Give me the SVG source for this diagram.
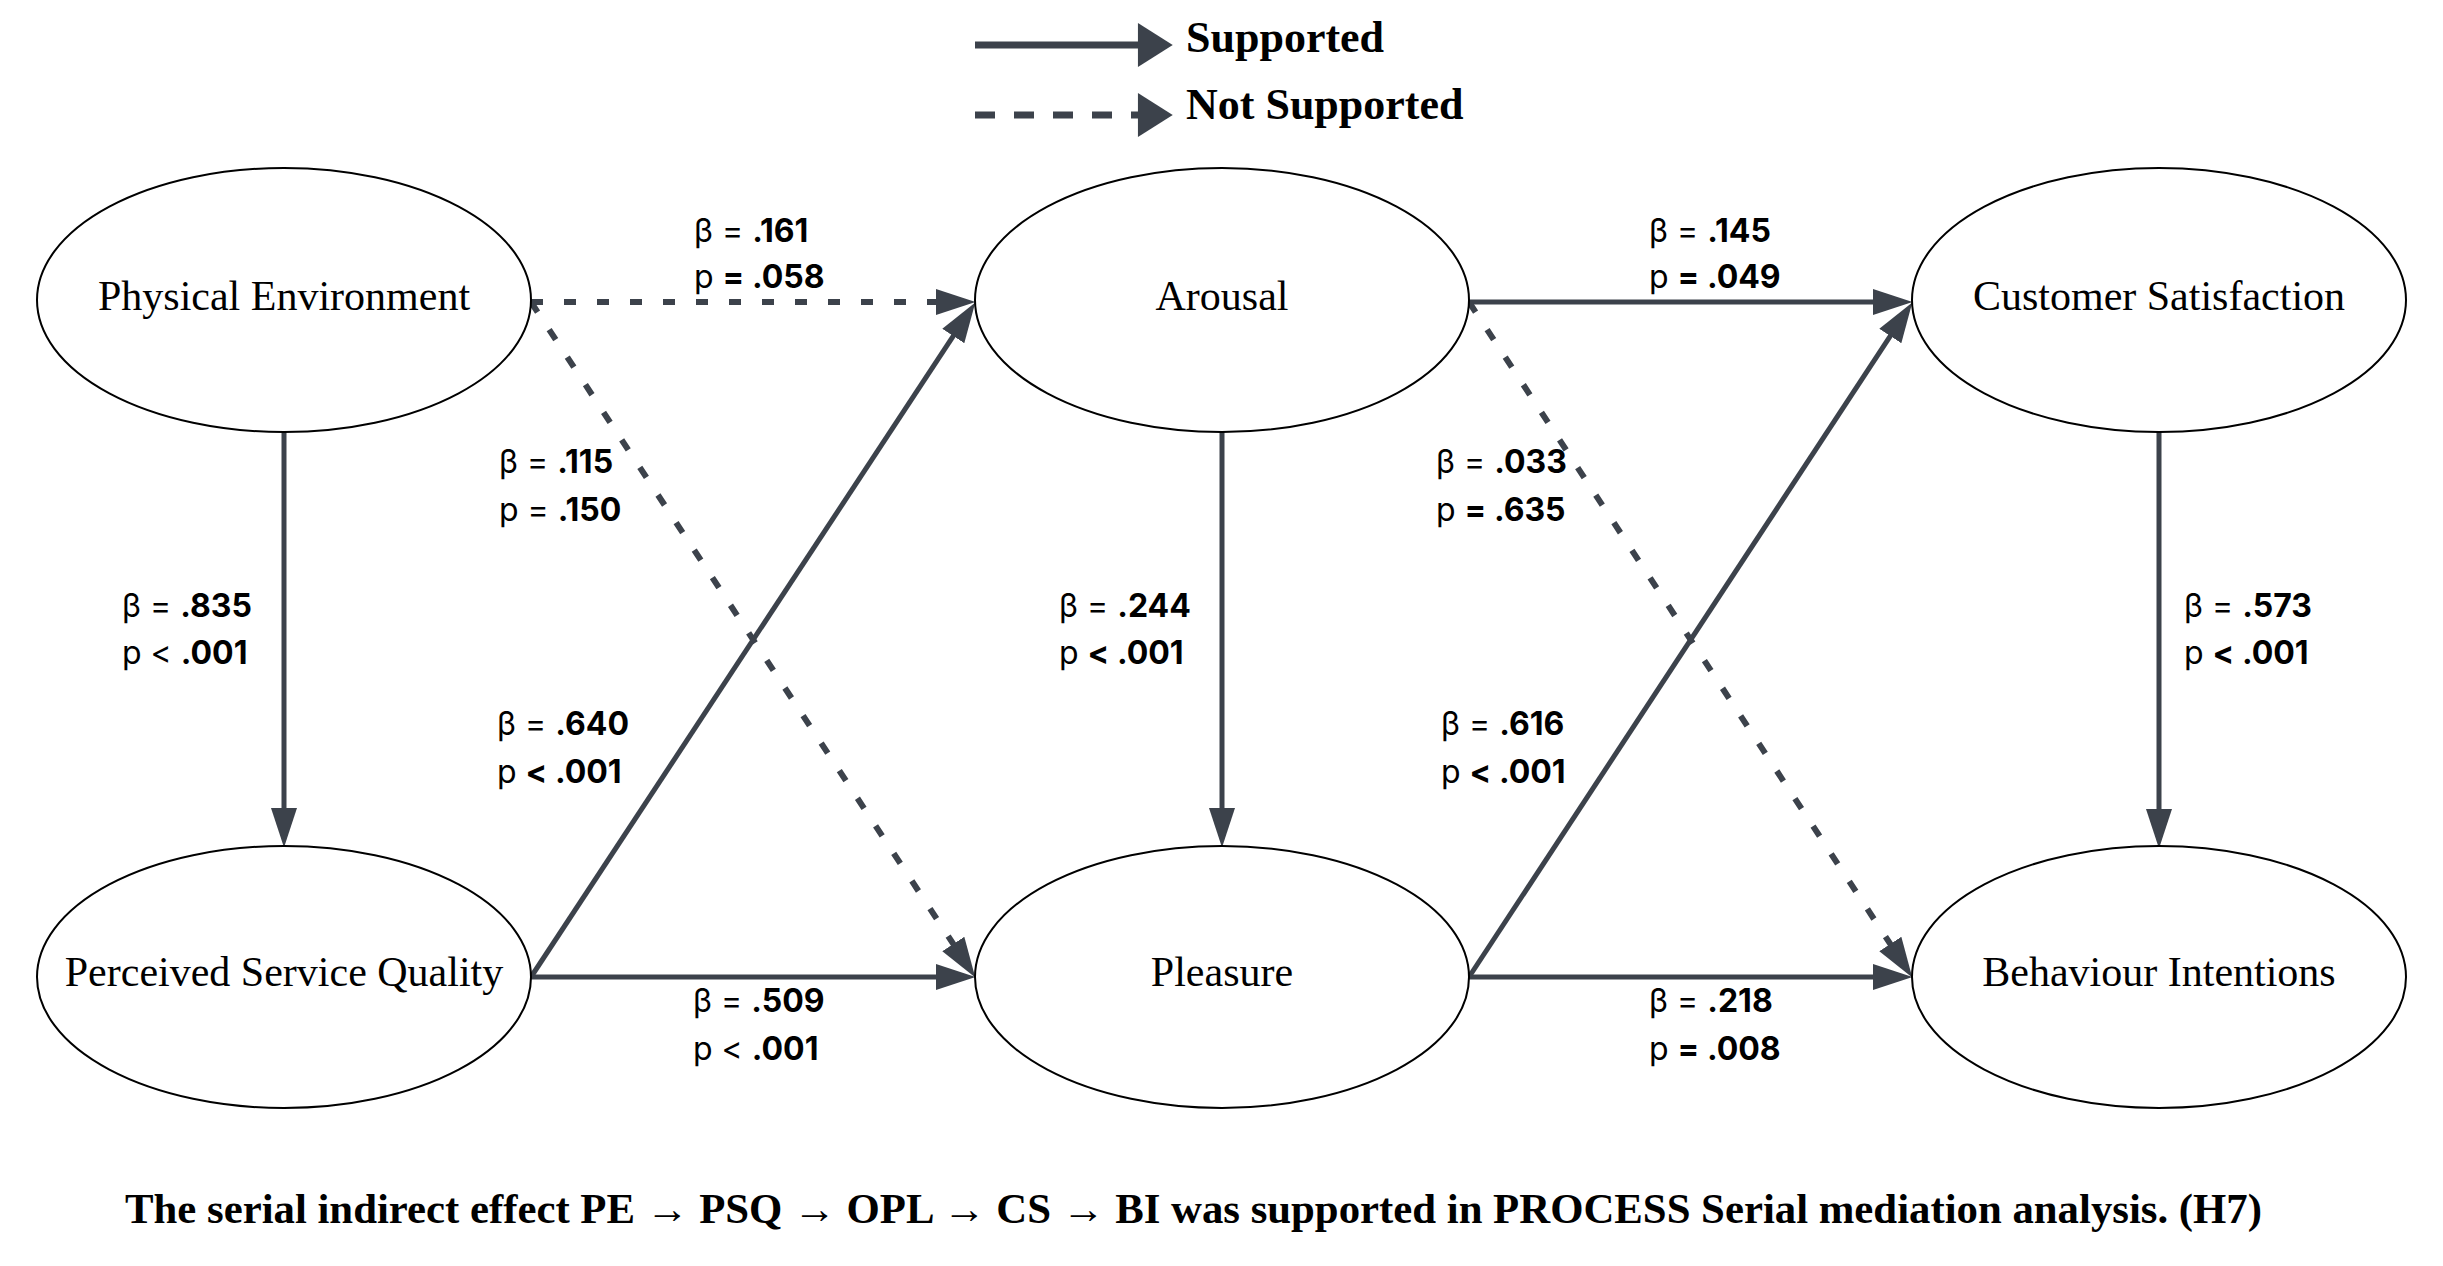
<svg xmlns="http://www.w3.org/2000/svg" width="2443" height="1266" viewBox="0 0 2443 1266">
<defs>
<style>
.node ellipse{fill:#fff;stroke:#000;stroke-width:2}
.node text{font-family:"Liberation Serif","Times New Roman",serif;font-size:42px;fill:#000;text-anchor:middle}
.edge{stroke:#3c424b;stroke-width:5;fill:none}
.dash{stroke-width:6;stroke-dasharray:12 21}
.lbl{font-family:Inter,"Liberation Sans",sans-serif;font-size:32px;fill:#000}
.b{font-weight:700}
.legend{font-family:"Liberation Serif","Times New Roman",serif;font-weight:700;font-size:44px;fill:#000}
.caption{font-family:"Liberation Serif","Times New Roman",serif;font-weight:700;font-size:42px;fill:#000}
</style>
<marker id="ah" markerUnits="userSpaceOnUse" markerWidth="40" markerHeight="28" refX="28" refY="12.5" orient="auto" viewBox="0 0 38 25">
<path d="M0,0 L38,12.5 L0,25 z" fill="#3c424b"/>
</marker>
<marker id="lah" markerUnits="userSpaceOnUse" markerWidth="36" markerHeight="44" refX="2" refY="21.5" orient="auto" viewBox="0 0 34 43">
<path d="M0,0 L34,21.5 L0,43 z" fill="#3c424b"/>
</marker>
</defs>
<rect width="2443" height="1266" fill="#fff"/>

<g id="legend">
<line x1="975" y1="45" x2="1140" y2="45" stroke="#3c424b" stroke-width="7" marker-end="url(#lah)"/>
<line x1="975" y1="115" x2="1140" y2="115" stroke="#3c424b" stroke-width="7" stroke-dasharray="20 19" marker-end="url(#lah)"/>
<text class="legend" x="1186" y="52">Supported</text>
<text class="legend" x="1186" y="119">Not Supported</text>
</g>

<g id="connectors">
<line class="edge" x1="284" y1="432" x2="284" y2="837" marker-end="url(#ah)"/>
<line class="edge" x1="1222" y1="432" x2="1222" y2="837" marker-end="url(#ah)"/>
<line class="edge" x1="2159" y1="432" x2="2159" y2="838" marker-end="url(#ah)"/>
<line class="edge dash" x1="531" y1="302" x2="965" y2="302" marker-end="url(#ah)"/>
<line class="edge" x1="1469" y1="302" x2="1902" y2="302" marker-end="url(#ah)"/>
<line class="edge" x1="531" y1="977" x2="965" y2="977" marker-end="url(#ah)"/>
<line class="edge" x1="1469" y1="977" x2="1902" y2="977" marker-end="url(#ah)"/>
<line class="edge dash" x1="531" y1="302" x2="969.5" y2="968.6" marker-end="url(#ah)"/>
<line class="edge" x1="531" y1="977" x2="969.5" y2="311.4" marker-end="url(#ah)"/>
<line class="edge dash" x1="1469" y1="302" x2="1906.5" y2="968.6" marker-end="url(#ah)"/>
<line class="edge" x1="1469" y1="977" x2="1906.5" y2="311.4" marker-end="url(#ah)"/>
</g>

<g id="labels">
<text class="lbl" x="694" y="242">β = <tspan class="b">.161</tspan></text>
<text class="lbl" x="694" y="288">p <tspan class="b">= .058</tspan></text>
<text class="lbl" x="1649" y="242">β = <tspan class="b">.145</tspan></text>
<text class="lbl" x="1649" y="288">p <tspan class="b">= .049</tspan></text>
<text class="lbl" x="499" y="473">β = <tspan class="b">.115</tspan></text>
<text class="lbl" x="499" y="521">p = <tspan class="b">.150</tspan></text>
<text class="lbl" x="1436" y="473">β = <tspan class="b">.033</tspan></text>
<text class="lbl" x="1436" y="521">p <tspan class="b">= .635</tspan></text>
<text class="lbl" x="122" y="617">β = <tspan class="b">.835</tspan></text>
<text class="lbl" x="122" y="664">p &lt; <tspan class="b">.001</tspan></text>
<text class="lbl" x="1059" y="617">β = <tspan class="b">.244</tspan></text>
<text class="lbl" x="1059" y="664">p <tspan class="b">&lt; .001</tspan></text>
<text class="lbl" x="2184" y="617">β = <tspan class="b">.573</tspan></text>
<text class="lbl" x="2184" y="664">p <tspan class="b">&lt; .001</tspan></text>
<text class="lbl" x="497" y="735">β = <tspan class="b">.640</tspan></text>
<text class="lbl" x="497" y="783">p <tspan class="b">&lt; .001</tspan></text>
<text class="lbl" x="1441" y="735">β = <tspan class="b">.616</tspan></text>
<text class="lbl" x="1441" y="783">p <tspan class="b">&lt; .001</tspan></text>
<text class="lbl" x="693" y="1012">β = <tspan class="b">.509</tspan></text>
<text class="lbl" x="693" y="1060">p &lt; <tspan class="b">.001</tspan></text>
<text class="lbl" x="1649" y="1012">β = <tspan class="b">.218</tspan></text>
<text class="lbl" x="1649" y="1060">p <tspan class="b">= .008</tspan></text>
</g>

<g id="node-pe" class="node"><ellipse cx="284" cy="300" rx="247" ry="132"/><text x="284" y="310">Physical Environment</text></g>
<g id="node-arousal" class="node"><ellipse cx="1222" cy="300" rx="247" ry="132"/><text x="1222" y="310">Arousal</text></g>
<g id="node-cs" class="node"><ellipse cx="2159" cy="300" rx="247" ry="132"/><text x="2159" y="310">Customer Satisfaction</text></g>
<g id="node-psq" class="node"><ellipse cx="284" cy="977" rx="247" ry="131"/><text x="284" y="986">Perceived Service Quality</text></g>
<g id="node-pleasure" class="node"><ellipse cx="1222" cy="977" rx="247" ry="131"/><text x="1222" y="986">Pleasure</text></g>
<g id="node-bi" class="node"><ellipse cx="2159" cy="977" rx="247" ry="131"/><text x="2159" y="986">Behaviour Intentions</text></g>

<text class="caption" x="125" y="1223" textLength="2137" lengthAdjust="spacingAndGlyphs">The serial indirect effect PE → PSQ → OPL → CS → BI was supported in PROCESS Serial mediation analysis. (H7)</text>
</svg>
